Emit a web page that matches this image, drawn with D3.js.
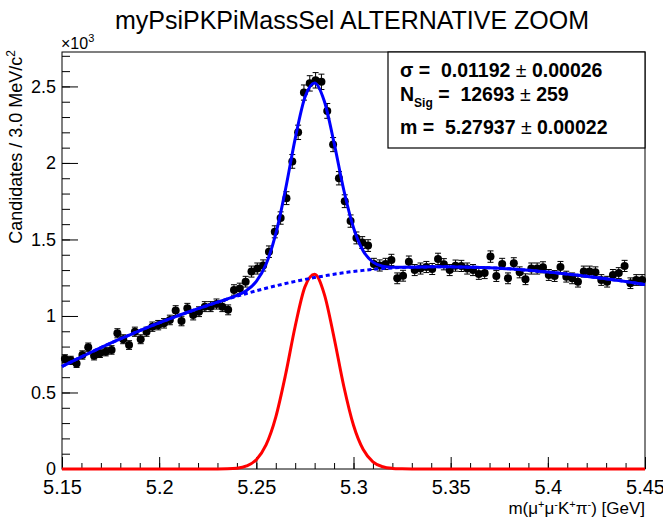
<!DOCTYPE html>
<html lang="en">
<head>
    <meta charset="UTF-8">
    <title>myPsiPKPiMassSel ALTERNATIVE ZOOM</title>
    <script src="https://d3js.org/d3.v7.min.js"></script>
    <style>
        body { margin: 0; background: #fff; }
        text { font-family: "Liberation Sans", Arial, Helvetica, sans-serif; }
    </style>
</head>
<body>
    <svg width="663" height="520"></svg>

    <script>
        // histogram: 100 bins of 3 MeV from 5.15 to 5.45 GeV
        const binLow = 5.15, binWidth = 0.003;
        const counts = [
            720, 710, 690, 745, 795, 740, 756, 767, 778, 887,
            848, 810, 897, 848, 897, 930, 940, 952, 974, 1035,
            967, 1050, 1006, 1028, 1061, 1061, 1078, 1061, 1040, 1170,
            1180, 1224, 1290, 1310, 1330, 1420, 1550, 1640, 1770, 2010,
            2200, 2460, 2520, 2540, 2530, 2340, 2120, 1900, 1750, 1620,
            1510, 1480, 1460, 1340, 1330, 1340, 1366, 1246, 1263, 1355,
            1300, 1310, 1320, 1307, 1373, 1338, 1300, 1329, 1327, 1310,
            1300, 1275, 1280, 1388, 1261, 1340, 1246, 1344, 1285, 1240,
            1310, 1310, 1318, 1268, 1261, 1320, 1257, 1246, 1224, 1290,
            1290, 1285, 1235, 1224, 1268, 1280, 1327, 1214, 1235, 1235
        ];

        // fit curves sampled every 5 MeV from 5.15 to 5.45
        const curveStep = 0.005;
        const background = [
            670, 702, 733, 763, 793, 822, 850, 877, 904, 930,
            955, 979, 1003, 1026, 1048, 1069, 1090, 1110, 1129, 1147,
            1165, 1181, 1197, 1212, 1226, 1239, 1251, 1262, 1273, 1282,
            1291, 1298, 1305, 1310, 1314, 1317, 1319, 1320, 1321, 1321,
            1321, 1320, 1319, 1317, 1315, 1312, 1308, 1304, 1299, 1293,
            1287, 1281, 1274, 1267, 1259, 1251, 1243, 1234, 1225, 1215,
            1205
        ];
        const signal = [
            0, 0, 0, 0, 0, 0, 0, 0, 0, 0,
            0, 0, 0, 0, 0, 0, 0, 1, 5, 20,
            61, 157, 339, 614, 933, 1190, 1272, 1141, 858, 541,
            286, 127, 47, 15, 4, 1, 0, 0, 0, 0,
            0, 0, 0, 0, 0, 0, 0, 0, 0, 0,
            0, 0, 0, 0, 0, 0, 0, 0, 0, 0,
            0
        ];

        const xTicks = [5.15, 5.2, 5.25, 5.3, 5.35, 5.4, 5.45];
        const xTickLabels = ["5.15", "5.2", "5.25", "5.3", "5.35", "5.4", "5.45"];
        const yTicks = [0, 500, 1000, 1500, 2000, 2500];
        const yTickLabels = ["0", "0.5", "1", "1.5", "2", "2.5"];

        const sp = "\u00a0";
        const fitLines = [
            ["σ =" + sp + sp, "0.01192" + sp, "±", sp + "0.00026"],
            ["N", "Sig", sp + "=" + sp + sp + "12693" + sp, "±", sp + "259"],
            ["m =" + sp + sp, "5.27937" + sp, "±", sp + "0.00022"]
        ];

        const pLeft = 62, pRight = 645, pTop = 52, pBottom = 469;
        const svg = d3.select("svg");

        const x = d3.scaleLinear().domain([5.15, 5.45]).range([pLeft, pRight]);
        const y = d3.scaleLinear().domain([0, 2725]).range([pBottom, pTop]);

        // title
        svg.append("text")
            .attr("x", 352).attr("y", 29)
            .attr("text-anchor", "middle")
            .attr("font-size", 25)
            .text("myPsiPKPiMassSel ALTERNATIVE ZOOM");

        // minor ticks
        svg.append("g")
            .attr("transform", `translate(${pLeft},0)`)
            .call(d3.axisLeft(y).tickValues(d3.range(0, 2701, 100)).tickSize(-8).tickFormat(""))
            .call(g => g.select(".domain").remove());
        svg.append("g")
            .attr("transform", `translate(0,${pBottom})`)
            .call(d3.axisBottom(x).tickValues(d3.range(0, 31).map(i => 5.15 + 0.01 * i)).tickSize(-6).tickFormat(""))
            .call(g => g.select(".domain").remove());

        // major ticks + labels
        svg.append("g")
            .attr("transform", `translate(${pLeft},0)`)
            .call(d3.axisLeft(y).tickValues(yTicks).tickSize(-16).tickPadding(6)
                .tickFormat((d, i) => yTickLabels[i]))
            .call(g => g.select(".domain").remove())
            .call(g => g.selectAll("text").attr("font-size", 18).attr("font-family", null));
        svg.append("g")
            .attr("transform", `translate(0,${pBottom})`)
            .call(d3.axisBottom(x).tickValues(xTicks).tickSize(-12).tickPadding(11)
                .tickFormat((d, i) => xTickLabels[i]))
            .call(g => g.select(".domain").remove())
            .call(g => g.selectAll("text").attr("font-size", 20).attr("font-family", null));

        // frame
        svg.append("rect")
            .attr("x", pLeft).attr("y", pTop)
            .attr("width", pRight - pLeft).attr("height", pBottom - pTop)
            .attr("fill", "none").attr("stroke", "#000");

        // exponent
        const ex = svg.append("text").attr("x", 61).attr("y", 49).attr("font-size", 16);
        ex.append("tspan").text("×10");
        ex.append("tspan").attr("dy", -7).attr("font-size", 11).text("3");

        // axis titles
        const yt = svg.append("text")
            .attr("transform", "translate(22,50) rotate(-90)")
            .attr("text-anchor", "end")
            .attr("font-size", 18);
        yt.append("tspan").text("Candidates / 3.0 MeV/c");
        yt.append("tspan").attr("dy", -7).attr("font-size", 12).text("2");

        const xt = svg.append("text")
            .attr("x", 645).attr("y", 514)
            .attr("text-anchor", "end")
            .attr("font-size", 17);
        xt.append("tspan").text("m(μ");
        xt.append("tspan").attr("dy", -6).attr("font-size", 11).text("+");
        xt.append("tspan").attr("dy", 6).text("μ");
        xt.append("tspan").attr("dy", -6).attr("font-size", 11).text("-");
        xt.append("tspan").attr("dy", 6).text("K");
        xt.append("tspan").attr("dy", -6).attr("font-size", 11).text("+");
        xt.append("tspan").attr("dy", 6).text("π");
        xt.append("tspan").attr("dy", -6).attr("font-size", 11).text("-");
        xt.append("tspan").attr("dy", 6).text(") [GeV]");

        // data points with errors
        const pts = counts.map((c, i) => ({ m: binLow + (i + 0.5) * binWidth, c: c, e: Math.sqrt(c) }));
        const pg = svg.append("g");
        pg.selectAll("line.err").data(pts).enter().append("line")
            .attr("x1", d => x(d.m)).attr("x2", d => x(d.m))
            .attr("y1", d => y(d.c - d.e)).attr("y2", d => y(d.c + d.e))
            .attr("stroke", "#000");
        pg.selectAll("line.cap").data(pts.flatMap(d => [d.c - d.e, d.c + d.e].map(v => ({ m: d.m, v: v }))))
            .enter().append("line")
            .attr("x1", d => x(d.m) - 3).attr("x2", d => x(d.m) + 3)
            .attr("y1", d => y(d.v)).attr("y2", d => y(d.v))
            .attr("stroke", "#000");
        pg.selectAll("circle").data(pts).enter().append("circle")
            .attr("cx", d => x(d.m)).attr("cy", d => y(d.c))
            .attr("r", 4).attr("fill", "#000");

        // fit curves
        const grid = background.map((b, i) => ({ m: 5.15 + curveStep * i, b: b, s: signal[i] }));
        const line = key => d3.line().x(d => x(d.m)).y(d => y(key(d))).curve(d3.curveMonotoneX);

        svg.append("path").datum(grid)
            .attr("d", line(d => d.s))
            .attr("fill", "none").attr("stroke", "#ff0000").attr("stroke-width", 3);
        svg.append("path").datum(grid)
            .attr("d", line(d => d.b))
            .attr("fill", "none").attr("stroke", "#0000ff").attr("stroke-width", 3)
            .attr("stroke-dasharray", "4,3");
        svg.append("path").datum(grid)
            .attr("d", line(d => d.b + d.s))
            .attr("fill", "none").attr("stroke", "#0000ff").attr("stroke-width", 3);

        // fit result box
        svg.append("rect")
            .attr("x", 388).attr("y", pTop)
            .attr("width", pRight - 388).attr("height", 96)
            .attr("fill", "#fff").attr("stroke", "#000").attr("stroke-width", 1.2);

        const box = svg.append("g")
            .attr("font-size", 19.5).attr("font-weight", "bold");
        const l1 = box.append("text").attr("x", 400).attr("y", 77);
        l1.append("tspan").text(fitLines[0][0]);
        l1.append("tspan").text(fitLines[0][1]);
        l1.append("tspan").attr("font-weight", "normal").text(fitLines[0][2]);
        l1.append("tspan").text(fitLines[0][3]);

        const l2 = box.append("text").attr("x", 400).attr("y", 101);
        l2.append("tspan").text(fitLines[1][0]);
        l2.append("tspan").attr("dy", 6).attr("font-size", 12).text(fitLines[1][1]);
        l2.append("tspan").attr("dy", -6).text(fitLines[1][2]);
        l2.append("tspan").attr("font-weight", "normal").text(fitLines[1][3]);
        l2.append("tspan").text(fitLines[1][4]);

        const l3 = box.append("text").attr("x", 400).attr("y", 134);
        l3.append("tspan").text(fitLines[2][0]);
        l3.append("tspan").text(fitLines[2][1]);
        l3.append("tspan").attr("font-weight", "normal").text(fitLines[2][2]);
        l3.append("tspan").text(fitLines[2][3]);
    </script>
</body>
</html>
